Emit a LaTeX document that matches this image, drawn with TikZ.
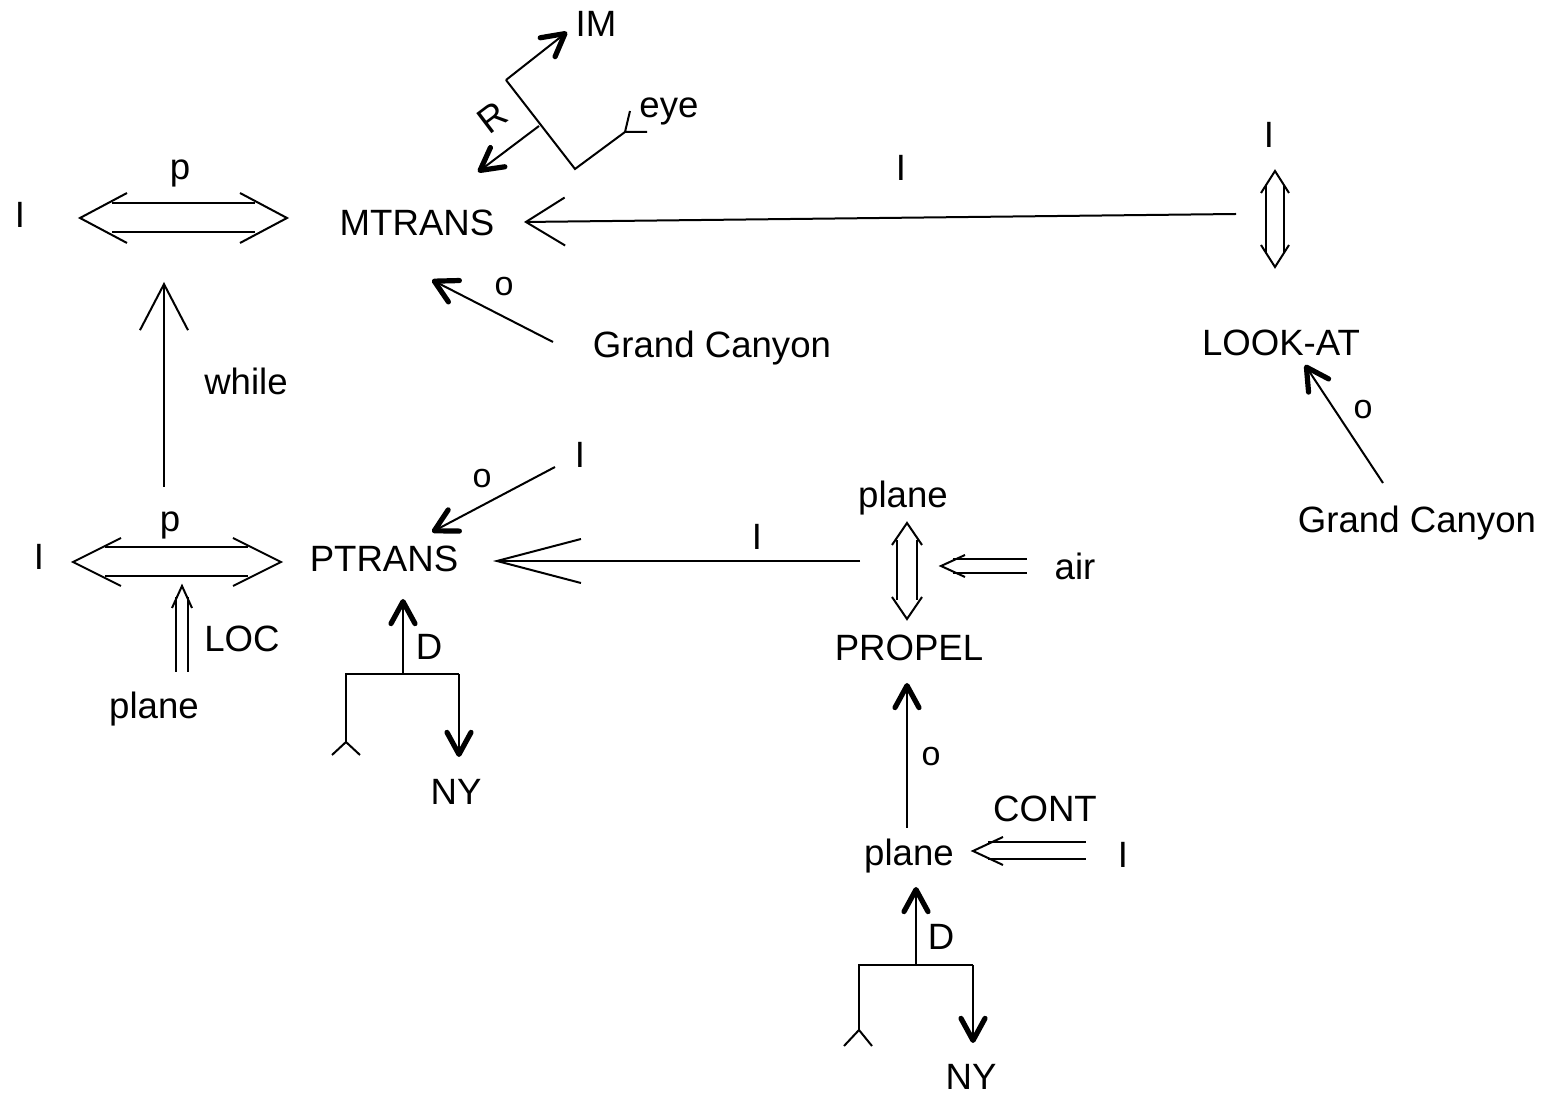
\documentclass[tikz,border=0pt]{standalone}
\usepackage{fontspec}
\setmainfont{Liberation Sans}
\usetikzlibrary{arrows.meta}
\newcommand\cdsize{\fontsize{18.3}{22}\selectfont}
\newcommand\objsize{\fontsize{17}{20}\selectfont}
\tikzset{
  lab/.style={font=\cdsize, inner sep=0pt, anchor=base},
  obj/.style={font=\objsize, inner sep=0pt, anchor=center},
  heavy/.style={-{Straight Barb[length=11pt, width=12pt, line width=2.6pt, round]}},
  openhead/.style 2 args={-{Straight Barb[length=#1, width=#2]}},
  dbl/.style={double, double distance=#1},
}
\begin{document}
\begin{tikzpicture}[x=0.5pt, y=-0.5pt, line width=1pt]
  \useasboundingbox (0,0) rectangle (1544,1095);

  %% MTRANS と主体 I
  \node[lab] (iA) at (20,228) {I};
  \node[lab] (pA) at (180,180) {p};
  \node[lab] (mtrans) at (417,236) {MTRANS};
  \coordinate (dAl) at (80,218);
  \coordinate (dAr) at (287,218);
  \draw[dbl=13.5pt, shorten <=16pt, shorten >=16pt] (dAl) -- (dAr);
  \draw (dAl) ++(47,-25) -- (dAl) -- ++(47,25);
  \draw (dAr) ++(-47,-25) -- (dAr) -- ++(-47,25);

  %% R（IM ← eye）
  \coordinate (rA) at (506,80);
  \coordinate (rB) at (575,169);
  \coordinate (rC) at (539,126);
  \coordinate (rD) at (478,172);
  \coordinate (imE) at (567,32);
  \coordinate (eyeE) at (625,132);
  \node[lab] (im) at (596,37) {IM};
  \node[lab] (eye) at (669,118) {eye};
  \node[lab, anchor=center, rotate=37] (rl) at (492,118) {R};
  \draw (rA) -- (rB) -- (eyeE);
  \draw (eyeE) -- ++(5,-21) (eyeE) -- ++(22,0);
  \draw[heavy] (rA) -- (imE);
  \draw[heavy] (rC) -- (rD);

  %% 目的格 Grand Canyon → MTRANS
  \node[lab] (gcA) at (712,358) {Grand Canyon};
  \node[obj] (oA) at (504,287) {o};
  \coordinate (gA1) at (553,342);
  \coordinate (gA2) at (432,280);
  \draw[heavy] (gA1) -- (gA2);

  %% LOOK-AT
  \node[lab] (iB) at (1269,148) {I};
  \node[lab] (look) at (1281,356) {LOOK-AT};
  \node[lab] (gcB) at (1417,533) {Grand Canyon};
  \node[obj] (oB) at (1363,410) {o};
  \coordinate (dBt) at (1275,171);
  \coordinate (dBb) at (1275,267);
  \draw[dbl=8pt, shorten <=7pt, shorten >=7.5pt] (dBt) -- (dBb);
  \draw (dBt) ++(-14,22) -- (dBt) -- ++(14,22);
  \draw (dBb) ++(-14,-22) -- (dBb) -- ++(14,-22);
  \coordinate (gB1) at (1383,483);
  \coordinate (gB2) at (1305,365);
  \draw[heavy] (gB1) -- (gB2);

  %% LOOK-AT → MTRANS（I）
  \coordinate (lkE) at (1236,214);
  \coordinate (mtE) at (524,222);
  \node[lab] (iC) at (901,181) {I};
  \draw[openhead={19.5pt}{24pt}] (lkE) -- (mtE);

  %% while
  \coordinate (wB) at (164,487);
  \coordinate (wT) at (164,282);
  \node[lab] (while) at (246,395) {while};
  \draw[openhead={23pt}{24pt}] (wB) -- (wT);

  %% PTRANS と主体 I
  \node[lab] (iD) at (39,570) {I};
  \node[lab] (pD) at (170,532) {p};
  \node[lab] (ptrans) at (384,572) {PTRANS};
  \coordinate (dDl) at (73,562);
  \coordinate (dDr) at (281,562);
  \draw[dbl=13.5pt, shorten <=16pt, shorten >=16.5pt] (dDl) -- (dDr);
  \draw (dDl) ++(48,-24) -- (dDl) -- ++(48,24);
  \draw (dDr) ++(-48,-24) -- (dDr) -- ++(-48,24);

  %% LOC
  \node[lab] (loc) at (242,652) {LOC};
  \node[lab] (plA) at (154,719) {plane};
  \coordinate (locT) at (182,586);
  \coordinate (locB) at (182,672);
  \draw[dbl=5pt, shorten <=5.5pt] (locT) -- (locB);
  \draw (locT) ++(-10,22) -- (locT) -- ++(10,22);

  %% I →(o) PTRANS
  \node[lab] (iE) at (580,468) {I};
  \node[obj] (oE) at (482,479) {o};
  \coordinate (iE1) at (555,467);
  \coordinate (iE2) at (432,532);
  \draw[heavy] (iE1) -- (iE2);

  %% D（PTRANS）
  \coordinate (dE0) at (403,599);
  \coordinate (dE1) at (403,674);
  \coordinate (dEl) at (346,674);
  \coordinate (dEr) at (459,674);
  \coordinate (fE) at (346,742);
  \coordinate (nyE) at (459,757);
  \node[lab] (dlE) at (429,660) {D};
  \node[lab] (nyA) at (456,805) {NY};
  \draw[heavy] (dE1) -- (dE0);
  \draw (fE) -- (dEl) -- (dEr);
  \draw[heavy] (dEr) -- (nyE);
  \draw (fE) -- ++(-14,13) (fE) -- ++(14,13);

  %% PROPEL
  \node[lab] (plB) at (903,508) {plane};
  \node[lab] (propel) at (909,661) {PROPEL};
  \node[lab] (air) at (1075,580) {air};
  \coordinate (dFt) at (907,523);
  \coordinate (dFb) at (907,619);
  \draw[dbl=9pt, shorten <=8.5pt, shorten >=9.5pt] (dFt) -- (dFb);
  \draw (dFt) ++(-15,22) -- (dFt) -- ++(15,22);
  \draw (dFb) ++(-15,-22) -- (dFb) -- ++(15,-22);
  \coordinate (airT) at (941,566);
  \coordinate (airE) at (1027,566);
  \draw[dbl=6pt, shorten <=6pt] (airT) -- (airE);
  \draw (airT) ++(24,-11) -- (airT) -- ++(24,11);

  %% PROPEL → PTRANS（I）
  \coordinate (prE) at (860,561);
  \coordinate (ptE) at (493,561);
  \node[lab] (iF) at (757,550) {I};
  \draw[openhead={42pt}{22pt}] (prE) -- (ptE);

  %% plane →(o) PROPEL, CONT
  \node[lab] (plC) at (909,866) {plane};
  \node[obj] (oG) at (931,757) {o};
  \coordinate (plC1) at (907,828);
  \coordinate (prB) at (907,683);
  \draw[heavy] (plC1) -- (prB);
  \node[lab] (cont) at (1045,822) {CONT};
  \node[lab] (iG) at (1123,868) {I};
  \coordinate (cT) at (973,851);
  \coordinate (cE) at (1086,851);
  \draw[dbl=7.5pt, shorten <=7.5pt] (cT) -- (cE);
  \draw (cT) ++(30,-14) -- (cT) -- ++(30,14);

  %% D（plane）
  \coordinate (dH0) at (916,887);
  \coordinate (dH1) at (916,965);
  \coordinate (dHl) at (859,965);
  \coordinate (dHr) at (973,965);
  \coordinate (fH) at (859,1030);
  \coordinate (nyH) at (973,1043);
  \node[lab] (dlH) at (941,950) {D};
  \node[lab] (nyB) at (971,1090) {NY};
  \draw[heavy] (dH1) -- (dH0);
  \draw (fH) -- (dHl) -- (dHr);
  \draw[heavy] (dHr) -- (nyH);
  \draw (fH) -- ++(-15,16) (fH) -- ++(13,16);
\end{tikzpicture}
\end{document}
